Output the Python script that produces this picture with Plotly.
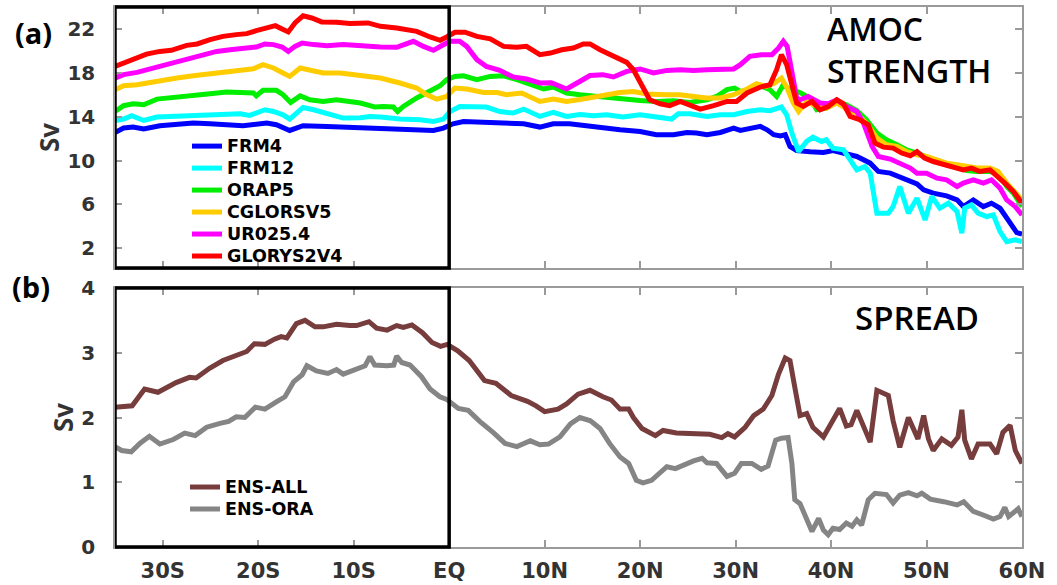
import plotly.graph_objects as go

# ---- AMOC strength (Sv) versus latitude (deg, negative = south) ----
FRM4 = [(-35.0, 12.56), (-34.1, 12.96), (-33.1, 13.05), (-32.0, 12.87), (-30.3, 13.17), (-28.5, 13.26),
        (-26.8, 13.42), (-25.05, 13.35), (-23.3, 13.23), (-21.6, 13.17), (-19.1, 13.42), (-18.1, 13.26),
        (-16.7, 12.74), (-15.3, 13.17), (-12.8, 13.11), (-11.1, 13.05), (-8.6, 12.96), (-6.2, 12.87),
        (-3.75, 12.8), (-1.65, 12.74), (-0.6, 12.96), (0.4, 13.35), (1.5, 13.56), (3.2, 13.5), (5.3, 13.35),
        (7.8, 13.35), (9.5, 13.05), (10.9, 13.35), (12.6, 13.35), (14.75, 13.11), (15.8, 12.96), (17.9, 12.8),
        (20.0, 12.65), (21.7, 12.35), (23.5, 12.35), (24.9, 12.56), (25.9, 12.5), (27.0, 12.35), (28.4, 12.56),
        (29.8, 12.96), (30.5, 12.74), (31.5, 12.96), (32.6, 13.11), (33.3, 12.8), (34.0, 12.35), (34.7, 12.25),
        (35.2, 12.35), (35.7, 11.28), (36.4, 10.9), (37.8, 10.8), (39.2, 10.73), (40.2, 10.91), (41.3, 10.68),
        (42.7, 10.37), (44.1, 9.76), (44.95, 9.0), (46.2, 8.85), (47.6, 8.39), (49.0, 7.87), (49.7, 7.32),
        (50.7, 7.02), (52.1, 6.78), (53.2, 6.41), (53.85, 5.8), (54.9, 6.41), (55.95, 5.8), (56.8, 6.11),
        (57.7, 5.65), (58.6, 4.58), (59.45, 3.42), (60.0, 3.3)]

FRM12 = [(-35.0, 13.65), (-34.1, 13.78), (-33.25, 14.08), (-32.0, 13.65), (-30.6, 13.96), (-28.5, 14.02),
         (-26.4, 14.08), (-24.35, 14.17), (-22.95, 14.17), (-21.9, 14.26), (-20.9, 14.11), (-19.3, 14.63),
         (-18.4, 14.47), (-17.4, 14.17), (-16.7, 13.78), (-16.0, 14.33), (-15.3, 14.84), (-14.2, 14.63),
         (-12.8, 14.26), (-11.1, 13.87), (-9.3, 13.9), (-8.3, 14.02), (-7.2, 13.96), (-5.15, 13.78),
         (-3.05, 13.72), (-1.65, 13.56), (-0.6, 13.78), (0.1, 14.47), (1.1, 14.93), (2.5, 14.88), (3.9, 14.88),
         (5.3, 14.47), (6.7, 14.33), (7.8, 14.69), (9.5, 14.02), (10.9, 14.39), (12.3, 14.02), (13.7, 14.2),
         (15.1, 14.08), (16.5, 14.17), (18.2, 13.96), (20.0, 14.17), (21.7, 14.02), (23.3, 13.78), (24.0, 14.26),
         (25.2, 14.26), (27.0, 14.02), (28.4, 14.17), (29.8, 14.17), (31.2, 14.47), (32.6, 14.63), (33.6, 14.55),
         (34.8, 14.88), (35.35, 14.17), (35.9, 12.5), (36.6, 10.82), (37.45, 11.74), (38.1, 12.13), (39.0, 11.74),
         (39.5, 11.89), (40.2, 11.13), (41.3, 10.98), (42.0, 10.06), (42.7, 9.15), (43.55, 9.45), (44.1, 8.85),
         (44.8, 5.2), (46.0, 5.2), (46.5, 5.8), (47.2, 7.63), (48.1, 5.2), (49.0, 6.57), (49.85, 4.58),
         (50.55, 6.72), (51.4, 5.65), (52.3, 6.11), (53.2, 5.34), (53.7, 3.37), (54.0, 5.65), (54.7, 5.96),
         (55.4, 5.2), (56.3, 4.89), (57.0, 5.04), (57.7, 3.52), (58.4, 2.6), (59.3, 2.76), (60.0, 2.6)]

ORAP5 = [(-35.0, 14.47), (-34.1, 15.0), (-33.1, 15.18), (-32.0, 15.09), (-30.6, 15.6), (-29.2, 15.7),
         (-27.85, 15.84), (-26.4, 16.0), (-25.05, 16.09), (-23.3, 16.24), (-21.6, 16.24), (-20.5, 16.16),
         (-20.2, 15.9), (-19.5, 16.4), (-18.1, 16.4), (-17.4, 16.0), (-16.6, 15.3), (-15.6, 15.9), (-14.6, 15.54),
         (-13.2, 15.39), (-11.8, 15.54), (-10.4, 15.39), (-9.3, 15.24), (-8.3, 15.0), (-7.8, 14.88), (-6.9, 14.93),
         (-5.85, 14.88), (-5.4, 14.47), (-4.8, 14.93), (-3.4, 15.7), (-2.0, 16.3), (-0.95, 16.82), (-0.26, 17.37),
         (0.6, 17.67), (1.5, 17.73), (2.9, 17.37), (4.3, 17.67), (5.7, 17.73), (7.1, 17.37), (8.5, 16.91),
         (9.9, 16.52), (10.9, 16.7), (12.3, 16.16), (13.7, 16.0), (14.75, 15.9), (16.5, 15.7), (18.2, 15.6),
         (20.0, 15.48), (21.7, 15.39), (23.5, 15.44), (25.2, 15.3), (27.0, 15.54), (28.0, 15.84), (29.1, 16.46),
         (29.9, 16.61), (30.5, 16.3), (31.5, 16.4), (32.6, 16.82), (33.6, 16.46), (34.3, 15.84), (35.0, 16.91),
         (35.7, 16.46), (36.75, 16.2), (37.8, 15.7), (38.5, 14.63), (39.5, 14.78), (40.6, 15.39), (41.6, 15.09),
         (42.7, 14.57), (43.7, 13.72), (44.8, 12.5), (45.8, 11.89), (46.9, 11.43), (47.9, 10.98), (49.0, 10.68),
         (50.0, 10.31), (51.1, 9.91), (52.1, 9.61), (53.2, 9.45), (54.2, 9.09), (55.3, 9.0), (56.65, 9.0),
         (57.5, 8.85), (58.4, 7.63), (59.1, 7.02), (60.0, 5.8)]

CGLORSV5 = [(-35.0, 16.46), (-34.1, 16.82), (-32.7, 16.91), (-31.7, 17.07), (-30.3, 17.3), (-28.5, 17.52),
            (-26.8, 17.73), (-25.05, 17.92), (-23.3, 18.07), (-21.6, 18.22), (-20.5, 18.37), (-19.5, 18.74),
            (-18.4, 18.44), (-17.4, 17.98), (-16.7, 17.67), (-15.6, 18.44), (-14.6, 18.28), (-13.2, 17.98),
            (-11.4, 17.98), (-9.3, 17.8), (-7.2, 17.52), (-5.15, 17.07), (-3.4, 16.61), (-2.35, 16.0),
            (-1.3, 15.6), (-0.26, 15.84), (0.6, 16.61), (1.84, 16.52), (3.6, 16.2), (5.0, 16.2), (6.0, 16.0),
            (7.6, 16.16), (8.5, 15.84), (9.5, 15.39), (10.9, 15.6), (12.3, 15.39), (13.7, 15.57), (15.1, 15.79),
            (16.5, 16.0), (17.9, 16.2), (19.3, 16.3), (20.7, 16.06), (22.8, 16.0), (24.2, 16.0), (25.6, 15.84),
            (27.0, 15.7), (28.4, 15.7), (29.8, 16.0), (31.2, 16.52), (32.2, 17.0), (33.2, 16.76), (34.1, 17.07),
            (34.8, 17.52), (35.35, 16.7), (36.05, 15.24), (36.6, 14.47), (37.45, 15.39), (38.5, 14.93),
            (39.5, 14.78), (40.6, 15.24), (41.5, 14.78), (42.7, 14.26), (43.7, 13.42), (44.8, 12.05), (45.8, 11.43),
            (46.9, 11.28), (47.9, 10.82), (49.0, 10.52), (50.0, 10.37), (51.1, 10.06), (52.1, 9.76), (53.2, 9.61),
            (54.2, 9.45), (55.3, 9.31), (56.65, 9.31), (57.5, 9.0), (58.4, 7.94), (59.1, 7.32), (60.0, 6.41)]

UR025_4 = [(-35.0, 17.52), (-34.1, 17.83), (-32.7, 18.04), (-31.3, 18.35), (-29.9, 18.74), (-28.5, 19.04),
           (-27.1, 19.26), (-25.75, 19.65), (-24.35, 19.95), (-22.95, 20.11), (-21.6, 20.26), (-20.2, 20.35),
           (-19.3, 20.63), (-18.4, 20.57), (-17.5, 20.35), (-16.85, 19.95), (-16.15, 20.41), (-15.4, 20.72),
           (-14.2, 20.57), (-12.8, 20.47), (-11.1, 20.57), (-9.3, 20.45), (-7.2, 20.35), (-5.5, 20.32),
           (-4.45, 20.72), (-3.75, 20.87), (-2.7, 20.41), (-1.65, 20.05), (-0.8, 20.47), (0.1, 20.87), (1.1, 20.87),
           (1.84, 20.41), (2.9, 19.2), (3.9, 18.58), (5.3, 18.22), (6.7, 17.62), (8.1, 17.43), (9.5, 17.07),
           (10.7, 17.1), (11.6, 16.76), (12.3, 16.52), (13.4, 17.07), (14.75, 17.75), (16.1, 17.83), (17.2, 17.62),
           (18.6, 18.13), (20.0, 18.35), (21.4, 17.98), (22.8, 18.22), (24.2, 18.28), (25.6, 18.22), (27.0, 18.28),
           (28.4, 18.28), (29.8, 18.35), (30.5, 18.74), (31.5, 19.5), (32.7, 19.65), (33.8, 19.65), (34.5, 20.26),
           (35.0, 20.87), (35.4, 20.41), (35.9, 17.98), (36.4, 15.7), (36.75, 15.54), (37.6, 15.84), (38.85, 15.24),
           (39.7, 15.18), (40.6, 15.54), (41.6, 14.93), (42.7, 14.47), (43.4, 13.42), (44.3, 11.28), (44.95, 10.37),
           (46.2, 10.13), (47.2, 9.76), (48.3, 9.31), (49.0, 8.85), (50.0, 8.85), (51.1, 8.39), (52.1, 8.24),
           (53.2, 7.63), (53.85, 7.94), (54.9, 8.24), (55.95, 7.94), (56.8, 8.24), (57.7, 7.48), (58.4, 6.41),
           (59.3, 5.8), (60.0, 5.04)]

GLORYS2V4 = [(-35.0, 18.58), (-34.1, 18.9), (-33.1, 19.26), (-31.7, 19.7), (-30.3, 19.95), (-29.1, 20.05),
             (-27.5, 20.5), (-26.4, 20.63), (-25.05, 21.02), (-23.7, 21.32), (-22.3, 21.48), (-21.2, 21.57),
             (-20.2, 21.84), (-19.1, 22.03), (-18.2, 22.3), (-17.5, 22.0), (-16.85, 21.73), (-16.15, 22.55),
             (-15.3, 23.2), (-14.4, 23.0), (-13.35, 22.64), (-11.8, 22.6), (-10.4, 22.5), (-8.5, 22.55),
             (-7.2, 22.24), (-5.5, 22.09), (-3.4, 21.78), (-2.0, 21.27), (-0.95, 20.96), (-0.26, 21.27), (0.6, 21.7),
             (1.66, 21.7), (2.9, 21.32), (4.3, 21.09), (5.7, 20.41), (7.1, 20.32), (8.1, 20.41), (9.5, 19.65),
             (10.6, 19.8), (11.8, 20.1), (13.0, 20.26), (14.05, 20.63), (14.75, 20.63), (15.8, 20.1), (17.2, 19.5),
             (18.6, 18.95), (19.3, 18.28), (20.2, 16.76), (21.0, 15.54), (22.1, 15.18), (23.1, 15.0), (24.2, 15.39),
             (25.2, 15.0), (26.3, 14.69), (27.7, 15.0), (29.1, 15.39), (30.1, 15.39), (31.2, 16.16), (32.6, 16.7),
             (33.6, 16.91), (34.3, 18.28), (34.8, 19.65), (35.35, 18.74), (36.05, 16.16), (36.4, 15.24),
             (37.1, 14.93), (38.0, 15.39), (38.85, 14.63), (39.7, 14.93), (40.6, 15.54), (41.3, 15.18), (42.0, 14.02),
             (43.0, 13.72), (43.9, 13.26), (44.6, 11.59), (45.5, 11.22), (46.5, 11.13), (47.4, 10.68), (48.3, 10.43),
             (49.0, 10.82), (49.8, 10.22), (50.7, 9.91), (51.8, 9.61), (52.8, 9.45), (53.85, 9.15), (54.7, 9.31),
             (55.6, 9.0), (56.65, 9.15), (57.5, 8.54), (58.4, 7.78), (59.1, 7.17), (60.0, 6.1)]

# ---- ensemble spread (Sv) ----
ENS_ALL = [(-35.0, 2.16), (-34.2, 2.17), (-33.2, 2.18), (-31.9, 2.44), (-30.5, 2.39), (-28.6, 2.54), (-27.2, 2.62),
           (-26.5, 2.61), (-25.1, 2.76), (-23.7, 2.88), (-22.3, 2.97), (-21.2, 3.02), (-20.4, 3.14), (-19.3, 3.13),
           (-18.3, 3.21), (-17.6, 3.25), (-17.0, 3.23), (-16.0, 3.45), (-15.1, 3.50), (-14.05, 3.40), (-13.2, 3.40),
           (-11.8, 3.44), (-10.4, 3.42), (-9.7, 3.42), (-8.4, 3.48), (-7.6, 3.38), (-6.5, 3.35), (-5.5, 3.42),
           (-4.8, 3.39), (-3.9, 3.43), (-2.8, 3.31), (-1.8, 3.16), (-0.9, 3.10), (-0.2, 3.13), (0.9, 3.03),
           (2.1, 2.88), (3.7, 2.57), (4.9, 2.53), (6.5, 2.34), (8.2, 2.25), (9.1, 2.18), (10.0, 2.09), (11.4, 2.13),
           (12.3, 2.21), (13.5, 2.36), (14.75, 2.42), (16.1, 2.32), (17.0, 2.27), (17.9, 2.13), (18.8, 2.13),
           (19.3, 2.00), (20.2, 1.83), (21.6, 1.72), (22.4, 1.80), (23.8, 1.76), (25.6, 1.74), (27.3, 1.74),
           (28.55, 1.69), (29.2, 1.75), (29.9, 1.70), (31.0, 1.85), (31.9, 2.03), (32.9, 2.13), (33.8, 2.34),
           (34.5, 2.67), (35.2, 2.92), (35.7, 2.88), (36.2, 2.47), (36.75, 2.03), (37.45, 2.06), (38.1, 1.85),
           (39.2, 1.70), (40.1, 1.95), (40.9, 2.14), (41.6, 1.87), (42.1, 1.89), (42.7, 2.11), (43.4, 1.88),
           (44.1, 1.62), (44.8, 2.42), (46.0, 2.34), (46.5, 1.95), (47.2, 1.54), (48.1, 2.00), (48.6, 1.83),
           (49.1, 1.67), (49.7, 2.03), (50.2, 1.67), (50.7, 1.49), (51.6, 1.67), (52.6, 1.57), (53.3, 1.70),
           (53.7, 2.12), (54.0, 1.65), (54.7, 1.36), (55.4, 1.59), (56.65, 1.59), (57.35, 1.44), (58.0, 1.77),
           (58.75, 1.88), (59.3, 1.49), (60.0, 1.29)]

ENS_ORA = [(-35.0, 1.55), (-34.3, 1.49), (-33.3, 1.47), (-32.4, 1.60), (-31.4, 1.71), (-30.3, 1.59), (-28.9, 1.66),
           (-27.7, 1.76), (-26.6, 1.72), (-25.4, 1.85), (-24.0, 1.91), (-23.1, 1.94), (-22.3, 2.01), (-21.4, 2.00),
           (-20.3, 2.16), (-19.3, 2.13), (-18.1, 2.24), (-17.2, 2.32), (-16.3, 2.55), (-15.4, 2.66), (-14.9, 2.80),
           (-13.9, 2.72), (-12.7, 2.68), (-11.8, 2.74), (-11.1, 2.67), (-9.9, 2.73), (-8.8, 2.80), (-8.3, 2.94),
           (-7.8, 2.81), (-6.5, 2.80), (-5.8, 2.81), (-5.5, 2.95), (-4.97, 2.85), (-4.1, 2.81), (-2.9, 2.63),
           (-2.0, 2.44), (-0.97, 2.32), (-0.26, 2.28), (0.96, 2.14), (2.0, 2.11), (3.2, 1.94), (4.6, 1.77),
           (5.85, 1.60), (7.1, 1.55), (8.5, 1.64), (9.5, 1.58), (10.4, 1.59), (11.6, 1.70), (12.7, 1.90),
           (13.7, 2.00), (14.8, 1.95), (15.8, 1.83), (16.8, 1.60), (17.9, 1.39), (18.8, 1.29), (19.6, 1.03),
           (20.3, 0.99), (21.2, 1.03), (22.1, 1.15), (22.8, 1.24), (23.7, 1.21), (24.6, 1.27), (25.6, 1.33),
           (26.5, 1.37), (27.0, 1.30), (28.0, 1.29), (29.1, 1.09), (29.9, 1.14), (30.6, 1.29), (31.7, 1.29),
           (32.7, 1.20), (33.4, 1.25), (34.2, 1.65), (34.8, 1.68), (35.5, 1.69), (35.9, 1.29), (36.2, 0.73),
           (36.75, 0.67), (37.45, 0.42), (38.0, 0.24), (38.7, 0.44), (39.2, 0.26), (39.7, 0.19), (40.2, 0.29),
           (40.9, 0.27), (41.6, 0.37), (42.2, 0.32), (42.7, 0.42), (43.2, 0.34), (43.9, 0.73), (44.6, 0.83),
           (45.8, 0.81), (46.5, 0.68), (47.2, 0.80), (48.1, 0.84), (49.0, 0.79), (49.5, 0.83), (50.4, 0.74),
           (51.8, 0.70), (53.2, 0.65), (53.9, 0.70), (54.9, 0.55), (56.0, 0.49), (57.0, 0.43), (57.7, 0.47),
           (58.2, 0.61), (58.6, 0.47), (59.3, 0.57), (59.6, 0.59), (60.0, 0.47)]

LAT_TICKS = [-30, -20, -10, 0, 10, 20, 30, 40, 50, 60]
LAT_LABELS = ["30S", "20S", "10S", "EQ", "10N", "20N", "30N", "40N", "50N", "60N"]
AMOC_TICKS = [2, 6, 10, 14, 18, 22]
SPREAD_TICKS = [0, 1, 2, 3, 4]

amoc_series = [
    ("FRM4", FRM4, "#0000ff"),
    ("FRM12", FRM12, "#00ffff"),
    ("ORAP5", ORAP5, "#00ee00"),
    ("CGLORSV5", CGLORSV5, "#ffcc00"),
    ("UR025.4", UR025_4, "#ff00ff"),
    ("GLORYS2V4", GLORYS2V4, "#ff0000"),
]
spread_series = [
    ("ENS-ALL", ENS_ALL, "#773c3c"),
    ("ENS-ORA", ENS_ORA, "#858585"),
]

LEGEND_TEXT = '<span style="font-size:17.5px">{}</span>'

fig = go.Figure()
for name, pts, color in amoc_series:
    lat, sv = zip(*pts)
    fig.add_trace(go.Scatter(x=lat, y=sv, mode="lines", name=LEGEND_TEXT.format(name),
                             line=dict(color=color, width=5), xaxis="x", yaxis="y", legend="legend"))
for name, pts, color in spread_series:
    lat, sv = zip(*pts)
    fig.add_trace(go.Scatter(x=lat, y=sv, mode="lines", name=LEGEND_TEXT.format(name),
                             line=dict(color=color, width=5), xaxis="x2", yaxis="y2", legend="legend2"))

frame = "#9a9a9a"
tick_font = dict(family="DejaVu Sans", size=20, color="#333333", weight="bold")
x_common = dict(range=[-35, 60], tickvals=LAT_TICKS, ticks="inside", ticklen=7, tickwidth=1.5,
                tickcolor=frame, showline=True, linecolor=frame, linewidth=1.5, mirror="ticks",
                showgrid=False, zeroline=False, automargin=False)
y_common = dict(ticks="inside", ticklen=7, tickwidth=1.5, tickcolor=frame, showline=True, linecolor=frame,
                linewidth=1.5, mirror="ticks", showgrid=False, zeroline=False, tickfont=tick_font,
                ticklabelstandoff=14, automargin=False,
                title=dict(text="Sv", font=dict(family="Open Sans", size=26, color="#333333", weight="bold"),
                           standoff=0))

label_font = dict(family="Open Sans", size=29, color="black", weight="bold")
box_font = dict(family="Open Sans", size=33, color="black", weight=600)

fig.update_layout(
    width=1057, height=585,
    margin=dict(l=115, r=35, t=7, b=38),
    paper_bgcolor="white", plot_bgcolor="white",
    xaxis=dict(**x_common, anchor="y", showticklabels=False),
    xaxis2=dict(**x_common, anchor="y2", ticktext=LAT_LABELS,
                tickfont=dict(family="DejaVu Sans", size=21, color="#333333", weight="bold"),
                ticklabelstandoff=4),
    yaxis=dict(**y_common, domain=[0.5167, 1], range=[0.2, 24], tickvals=AMOC_TICKS, anchor="x"),
    yaxis2=dict(**y_common, domain=[0, 0.4796], range=[0, 4], tickvals=SPREAD_TICKS, anchor="x2"),
    legend=dict(x=0.0794, y=0.772, xanchor="left", yanchor="top", bgcolor="rgba(0,0,0,0)",
                font=dict(family="DejaVu Sans", size=14.6, color="black", weight="bold"),
                itemwidth=30, tracegroupgap=0),
    legend2=dict(x=0.0772, y=0.1407, xanchor="left", yanchor="top", bgcolor="rgba(0,0,0,0)",
                 font=dict(family="DejaVu Sans", size=14.6, color="black", weight="bold"),
                 itemwidth=30, tracegroupgap=0),
    shapes=[
        dict(type="rect", xref="x", yref="y domain", x0=-35, x1=0, y0=0, y1=1,
             line=dict(color="black", width=3.5), layer="above"),
        dict(type="rect", xref="x2", yref="y2 domain", x0=-35, x1=0, y0=0, y1=1,
             line=dict(color="black", width=3.5), layer="above"),
    ],
    annotations=[
        dict(text="(a)", xref="paper", yref="paper", x=-0.0904, y=0.9537,
             xanchor="center", yanchor="middle", showarrow=False, font=label_font),
        dict(text="(b)", xref="paper", yref="paper", x=-0.0926, y=0.4815,
             xanchor="center", yanchor="middle", showarrow=False, font=label_font),
        dict(text="AMOC<br>STRENGTH", xref="paper", yref="paper", x=0.7828, y=0.922,
             xanchor="left", yanchor="middle", align="left", showarrow=False,
             font=dict(family="Open Sans", size=32, color="black", weight=600)),
        dict(text="SPREAD", xref="paper", yref="paper", x=0.8137, y=0.4241,
             xanchor="left", yanchor="middle", showarrow=False, font=box_font),
    ],
    showlegend=True,
)

fig.write_html("out.html")
